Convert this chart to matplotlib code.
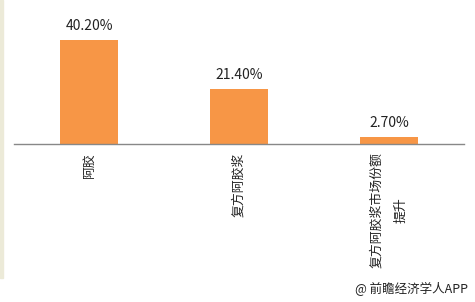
import matplotlib.pyplot as plt
from matplotlib.patches import Rectangle

plt.rcParams['font.family'] = ['Noto Sans CJK SC', 'DejaVu Sans']

# data
categories = ["阿胶", "复方阿胶浆", "复方阿胶浆市场份额\n提升"]
shares = [40.2, 21.4, 2.7]
value_labels = ["40.20%", "21.40%", "2.70%"]

bar_color = "#F79646"

fig = plt.figure(figsize=(4.75, 3.02), dpi=100)
W, H = 475, 302

# axes: baseline at y=144px, x from 14 to 464px
ax = fig.add_axes([14 / W, 1 - 144 / H, 450 / W, 129.35 / H])
ax.bar(range(len(shares)), shares, width=0.39, color=bar_color, zorder=2)
ax.set_xlim(-0.5, len(shares) - 0.5)
ax.set_ylim(0, 50)

for i, (v, lab) in enumerate(zip(shares, value_labels)):
    ax.annotate(lab, (i, v), xytext=(0, 14), textcoords="offset pixels",
                ha="center", va="center", fontsize=10, color="#222222")

ax.set_xticks(range(len(categories)))
ax.set_xticklabels(categories, rotation=90, fontsize=9.3, color="#222222",
                   multialignment="center", linespacing=2.1)
ax.tick_params(axis="x", length=0, pad=6)
ax.set_yticks([])
for side in ["left", "right", "top"]:
    ax.spines[side].set_visible(False)
ax.spines["bottom"].set_color("#888888")
ax.spines["bottom"].set_linewidth(1.0)
ax.patch.set_alpha(0)

# thin beige strip on the left edge
fig.patches.append(Rectangle((0, 1 - 278 / H), 3 / W, 278 / H,
                             transform=fig.transFigure, color="#ECEAD8", zorder=0))

fig.text(468 / W, 1 - 289 / H, "@ 前瞻经济学人APP", ha="right", va="center",
         fontsize=9, color="#222222")

fig.savefig("out.png", dpi=100)
